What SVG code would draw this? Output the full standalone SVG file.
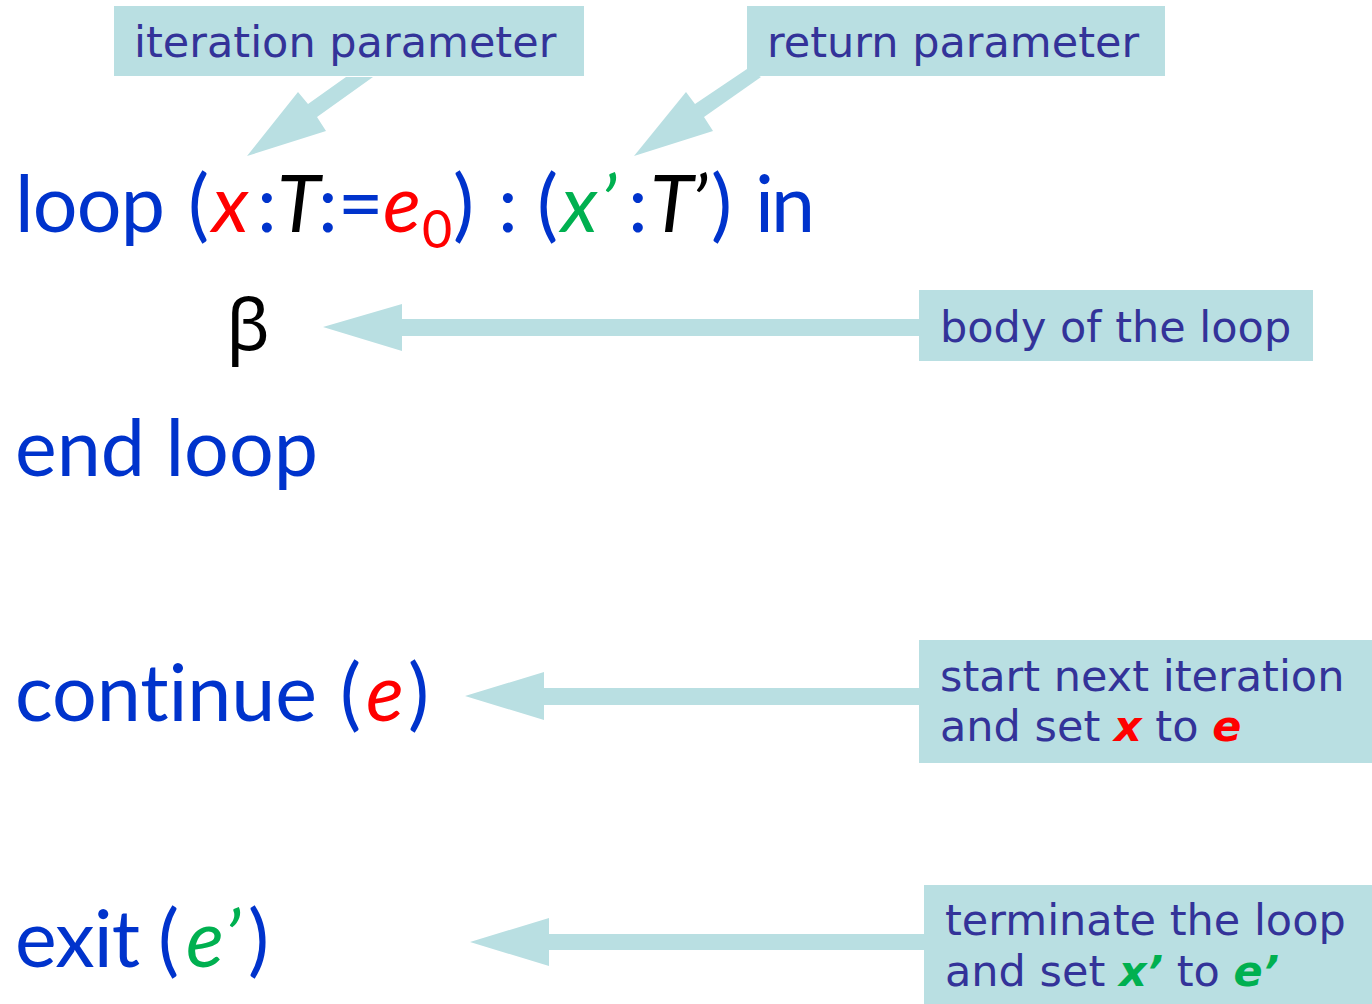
<svg xmlns="http://www.w3.org/2000/svg" width="1372" height="1004" viewBox="0 0 1372 1004">
<style>
.bg{fill:#ffffff}
.box{fill:#B9DFE2}
.arr{fill:#B9DFE2}
.lbl{font-family:"DejaVu Sans","Liberation Sans",sans-serif;font-size:43px;fill:#333399}
.code{font-family:Lato,"Liberation Sans",sans-serif;font-size:79px;fill:#0033CC;font-variant-ligatures:none;font-feature-settings:"liga" 0}
.ls{letter-spacing:1px}
.it{font-style:italic}
.red{fill:#FF0000}
.grn{fill:#00B050}
.blk{fill:#000000}
.bi{font-weight:bold;font-style:italic}
</style>
<rect class="bg" x="0" y="0" width="1372" height="1004"/>
<g id="connectors">
<polygon class="arr" points="346,77 373,77 317,117 326,131 247,156 298,92 308,104"/>
<polygon class="arr" points="747,69 761,77 704,117 713,131 634,156 686,92 695,104"/>
<polygon class="arr" points="323,327 402,304 402,319 925,319 925,336 402,336 402,351"/>
<polygon class="arr" points="465,696 544,672 544,688 925,688 925,705 544,705 544,720"/>
<polygon class="arr" points="470,942 549,918 549,934 930,934 930,950 549,950 549,966"/>
</g>
<g id="iteration-parameter">
<rect class="box" x="114" y="6" width="470" height="70"/>
<text class="lbl" x="134" y="57">iteration parameter</text>
</g>
<g id="return-parameter">
<rect class="box" x="747" y="6" width="418" height="70"/>
<text class="lbl" x="767" y="57">return parameter</text>
</g>
<g id="body-of-the-loop">
<rect class="box" x="919" y="290" width="394" height="71"/>
<text class="lbl" x="940" y="342">body of the loop</text>
</g>
<g id="start-next-iteration">
<rect class="box" x="919" y="640" width="453" height="123"/>
<text class="lbl" x="940" y="691">start next iteration</text>
<text class="lbl" x="940" y="741">and set <tspan class="bi red">x</tspan> to <tspan class="bi red">e</tspan></text>
</g>
<g id="terminate-the-loop">
<rect class="box" x="924" y="885" width="448" height="119"/>
<text class="lbl" x="945" y="935">terminate the loop</text>
<text class="lbl" x="945" y="986">and set <tspan class="bi grn">x’</tspan> to <tspan class="bi grn">e’</tspan></text>
</g>
<g id="loop-header">
<text class="code" y="232"><tspan x="15" textLength="150" lengthAdjust="spacing">loop</tspan><tspan x="188">(</tspan><tspan x="212" class="it red">x</tspan><tspan x="257">:</tspan><tspan x="277" class="it blk">T</tspan><tspan x="318">:=</tspan><tspan x="383" class="it red">e</tspan><tspan x="422" y="248" class="red" style="font-size:52px">0</tspan><tspan x="453" y="232">)</tspan><tspan x="498">:</tspan><tspan x="537">(</tspan><tspan x="561" class="it grn">x</tspan><tspan x="600" class="it grn">’</tspan><tspan x="628">:</tspan><tspan x="650" class="it blk">T</tspan><tspan x="691" class="it blk">’</tspan><tspan x="711">)</tspan><tspan x="755" textLength="60" lengthAdjust="spacing">in</tspan></text>
</g>
<g id="body">
<text x="226" y="350" style="font-family:'Noto Sans','DejaVu Sans',sans-serif;font-size:72px;fill:#000000">β</text>
</g>
<g id="end-loop">
<text class="code" x="15" y="476" textLength="303" lengthAdjust="spacing">end loop</text>
</g>
<g id="continue">
<text class="code" y="721"><tspan x="15" class="ls" textLength="303" lengthAdjust="spacing">continue</tspan><tspan x="340">(</tspan><tspan x="366" class="it red">e</tspan><tspan x="408">)</tspan></text>
</g>
<g id="exit">
<text class="code" y="967"><tspan x="15" textLength="125" lengthAdjust="spacing">exit</tspan><tspan x="158">(</tspan><tspan x="186" class="it grn">e</tspan><tspan x="224" class="it grn">’</tspan><tspan x="248">)</tspan></text>
</g>
</svg>
